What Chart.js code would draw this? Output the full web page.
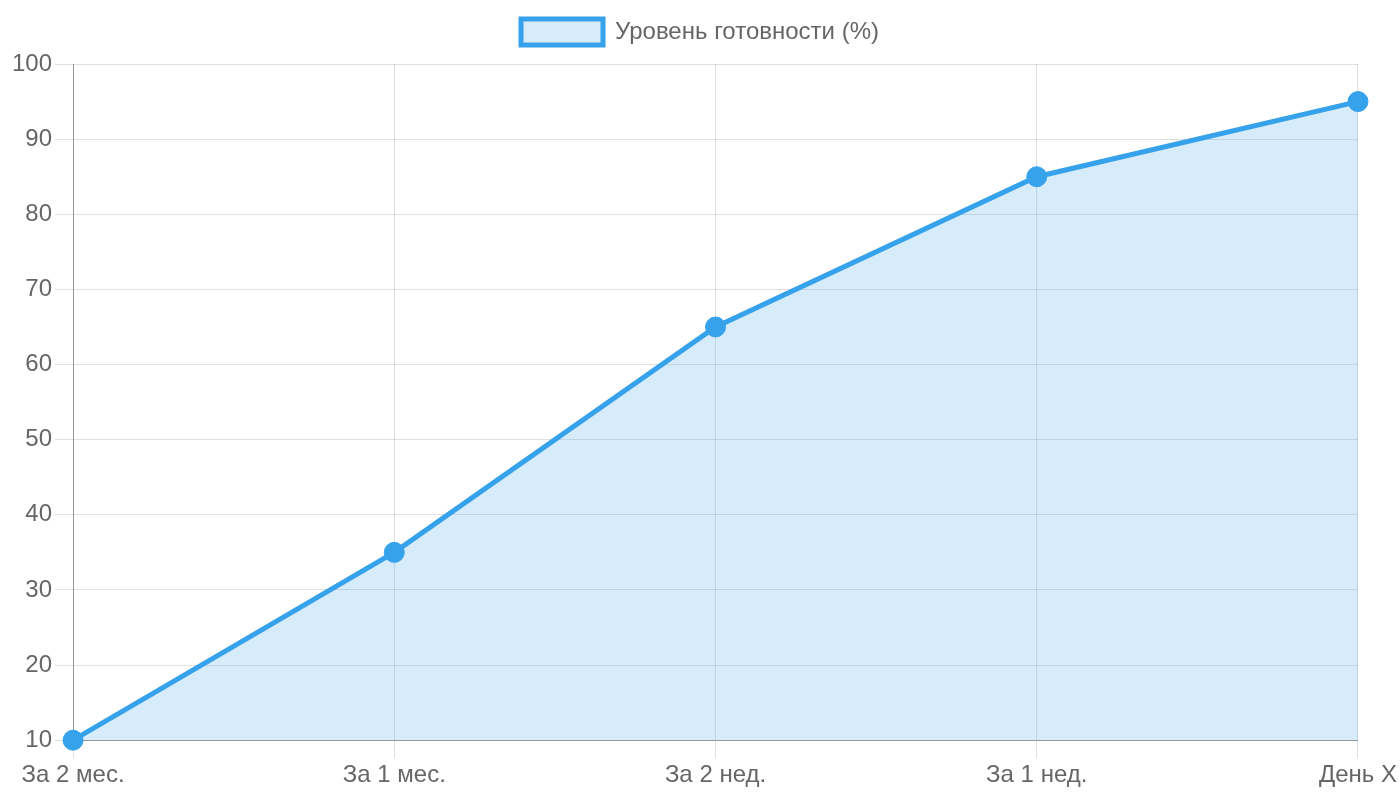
<!DOCTYPE html>
<html><head><meta charset="utf-8">
<script src="https://cdn.jsdelivr.net/npm/chart.js@4/dist/chart.umd.min.js"></script>
<style>html,body{margin:0;padding:0;background:#fff;}#wrap{width:1400px;height:800px;}</style>
</head><body><div id="wrap"><canvas id="c"></canvas></div>
<script>
const categories = ["За 2 мес.", "За 1 мес.", "За 2 нед.", "За 1 нед.", "День X"];
const readiness = [10, 35, 65, 85, 95];
const seriesLabel = "Уровень готовности (%)";

Chart.defaults.font.family = "'Liberation Sans', Arial, sans-serif";
Chart.defaults.font.size = 24;
Chart.defaults.color = "#666";

const legendGap = {
  id: 'legendGap',
  beforeInit(chart) {
    const lg = chart.legend;
    if (!lg) return;
    const orig = lg.fit;
    lg.fit = function () { orig.call(this); this.height += 9; };
  }
};

new Chart(document.getElementById('c'), {
  type: 'line',
  data: {
    labels: categories,
    datasets: [{
      label: seriesLabel,
      data: readiness,
      borderColor: '#36A2EB',
      backgroundColor: 'rgba(54,162,235,0.2)',
      fill: true,
      clip: false,
      borderWidth: 5,
      pointRadius: 10,
      pointBorderWidth: 1,
      pointBackgroundColor: '#36A2EB',
      pointBorderColor: '#36A2EB',
      tension: 0
    }]
  },
  options: {
    responsive: true,
    maintainAspectRatio: false,
    animation: false,
    layout: { padding: { left: 9, right: 9, top: 0, bottom: 7 } },
    plugins: {
      legend: { labels: { boxWidth: 82, boxHeight: 26, padding: 19 } },
      tooltip: { enabled: false }
    },
    scales: {
      x: { grid: { color: 'rgba(0,0,0,0.12)', tickLength: 18 }, border: { color: 'rgba(0,0,0,0.32)' }, ticks: { maxRotation: 0 } },
      y: { min: 10, max: 100, ticks: { stepSize: 10 }, grid: { color: 'rgba(0,0,0,0.12)', tickLength: 18 }, border: { color: 'rgba(0,0,0,0.32)' } }
    }
  },
  plugins: [legendGap]
});
</script></body></html>
